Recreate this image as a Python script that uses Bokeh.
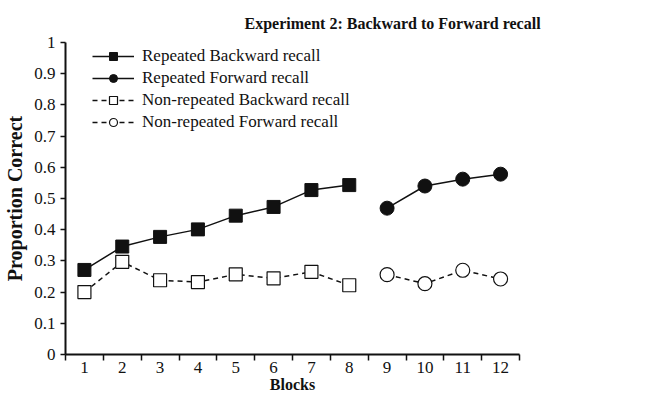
from bokeh.plotting import figure
from bokeh.models import FixedTicker, PrintfTickFormatter, Legend, LegendItem, Range1d
from bokeh.embed import file_html
from bokeh.resources import INLINE

# ---- data ----
blocks_back = [1, 2, 3, 4, 5, 6, 7, 8]
blocks_fwd = [9, 10, 11, 12]
rep_backward = [0.271, 0.346, 0.377, 0.401, 0.445, 0.473, 0.527, 0.543]
rep_forward = [0.469, 0.540, 0.562, 0.578]
nonrep_backward = [0.200, 0.297, 0.238, 0.232, 0.257, 0.244, 0.265, 0.222]
nonrep_forward = [0.256, 0.227, 0.270, 0.242]
x_tick_labels = [str(i) for i in range(1, 13)]
y_ticks = [0, 0.1, 0.2, 0.3, 0.4, 0.5, 0.6, 0.7, 0.8, 0.9, 1]

FONT = "Liberation Serif"
BLACK = "#111111"

p = figure(width=633, height=398, output_backend="svg", toolbar_location=None,
           x_range=Range1d(0.5, 12.5), y_range=Range1d(0, 1),
           min_border_left=65, min_border_right=114, min_border_top=42, min_border_bottom=44,
           title="Experiment 2: Backward to Forward recall")
p.outline_line_color = None
p.xgrid.visible = False
p.ygrid.visible = False
p.background_fill_color = "white"
p.border_fill_color = "white"

p.title.text_font = FONT
p.title.text_font_size = "16px"
p.title.text_font_style = "bold"
p.title.align = "left"
p.title.offset = 179
p.title.standoff = 21
p.title.text_color = BLACK

# x axis
xa = p.xaxis[0]
xa.ticker = FixedTicker(ticks=list(range(1, 13)), minor_ticks=[i + 0.5 for i in range(0, 13)])
xa.major_label_overrides = {i + 1: lab for i, lab in enumerate(x_tick_labels)}
xa.major_tick_line_color = None
xa.major_tick_out = 6
xa.major_tick_in = 0
xa.minor_tick_out = 6
xa.minor_tick_in = 0
xa.minor_tick_line_color = BLACK
xa.minor_tick_line_width = 1.5
xa.axis_line_width = 2
xa.axis_line_color = BLACK
xa.major_label_standoff = 1
xa.major_label_text_font = FONT
xa.major_label_text_font_size = "17px"
xa.major_label_text_color = BLACK
xa.axis_label = "Blocks"
xa.axis_label_text_font = FONT
xa.axis_label_text_font_size = "16px"
xa.axis_label_text_font_style = "bold"
xa.axis_label_standoff = 0
xa.axis_label_text_color = BLACK

# y axis
ya = p.yaxis[0]
ya.ticker = FixedTicker(ticks=y_ticks, minor_ticks=[])
ya.formatter = PrintfTickFormatter(format="%g")
ya.major_tick_out = 5
ya.major_tick_in = 0
ya.major_tick_line_width = 1.5
ya.major_tick_line_color = BLACK
ya.axis_line_width = 2
ya.axis_line_color = BLACK
ya.major_label_standoff = 5
ya.major_label_text_font = FONT
ya.major_label_text_font_size = "17px"
ya.major_label_text_color = BLACK
ya.axis_label = "Proportion Correct"
ya.axis_label_text_font = FONT
ya.axis_label_text_font_size = "20px"
ya.axis_label_text_font_style = "bold"
ya.axis_label_standoff = 5
ya.axis_label_text_color = BLACK

l1 = p.line(blocks_back, rep_backward, line_color=BLACK, line_width=1.5)
m1 = p.scatter(blocks_back, rep_backward, marker="square", size=13, fill_color=BLACK, line_color=BLACK)
l2 = p.line(blocks_fwd, rep_forward, line_color=BLACK, line_width=1.5)
m2 = p.scatter(blocks_fwd, rep_forward, marker="circle", size=14, fill_color=BLACK, line_color=BLACK)
l3 = p.line(blocks_back, nonrep_backward, line_color=BLACK, line_width=1.5, line_dash="5 4")
m3 = p.scatter(blocks_back, nonrep_backward, marker="square", size=13, fill_color="white", line_color=BLACK, line_width=1.2)
l4 = p.line(blocks_fwd, nonrep_forward, line_color=BLACK, line_width=1.5, line_dash="5 4")
m4 = p.scatter(blocks_fwd, nonrep_forward, marker="circle", size=14, fill_color="white", line_color=BLACK, line_width=1.2)

legend = Legend(items=[
    LegendItem(label="Repeated Backward recall", renderers=[l1, m1]),
    LegendItem(label="Repeated Forward recall", renderers=[l2, m2]),
    LegendItem(label="Non-repeated Backward recall", renderers=[l3, m3]),
    LegendItem(label="Non-repeated Forward recall", renderers=[l4, m4]),
], location=(27, 222))
legend.border_line_color = None
legend.background_fill_alpha = 0
legend.padding = 1
legend.margin = 0
legend.spacing = 2
legend.glyph_width = 42
legend.glyph_height = 20
legend.label_height = 20
legend.label_standoff = 8
legend.label_text_font = FONT
legend.label_text_font_size = "17px"
legend.label_text_color = BLACK
p.add_layout(legend, "center")

open("out.html", "w").write(file_html(p, INLINE))
